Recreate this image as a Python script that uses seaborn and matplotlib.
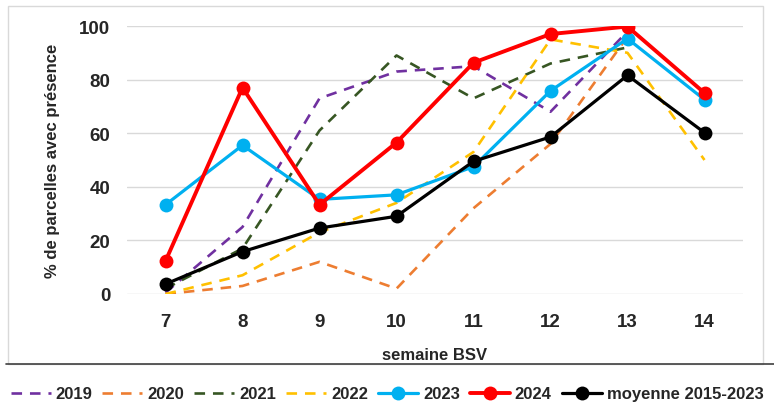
import numpy as np
import pandas as pd
import matplotlib.pyplot as plt
import seaborn as sns
from matplotlib.lines import Line2D
from matplotlib.patches import Rectangle

# Data
weeks = [7, 8, 9, 10, 11, 12, 13, 14]
y2019 = [0.5, 25, 73, 83, 85, 68, 98, np.nan]
y2020 = [0, 3, 12, 2, 32, 56, 96, np.nan]
y2021 = [2, 17, 61, 89, 73, 86, 92, np.nan]
y2022 = [0, 7, 23, 34, 53, 95, 90, 50]
y2023 = [33.3, 55.5, 35.3, 37, 47.5, 75.8, 95.3, 72.5]
y2024 = [12.3, 77, 33.3, 56.5, 86.3, 97, 99.8, 75]
moyenne = [3.7, 15.8, 24.6, 29, 49.5, 58.6, 81.6, 60.2]

sns.set_theme(style="white")
plt.rcParams['font.family'] = ['Liberation Sans', 'DejaVu Sans']

fig = plt.figure(figsize=(7.74, 4.14), dpi=100)
ax = fig.add_axes([127 / 774, 1 - 295 / 414, (743 - 127) / 774, (295 - 27) / 414])

dashed = [
    ("2019", y2019, "#7030A0"),
    ("2020", y2020, "#ED7D31"),
    ("2021", y2021, "#375623"),
    ("2022", y2022, "#FFC000"),
]
for label, vals, col in dashed:
    sns.lineplot(x=weeks, y=vals, ax=ax, color=col, linewidth=1.9,
                 dashes=False, linestyle=(0, (4, 3)), label=label)

solid = [
    ("2023", y2023, "#00B0F0", 2.3),
    ("2024", y2024, "#FF0000", 2.8),
    ("moyenne 2015-2023", moyenne, "#000000", 2.3),
]
for label, vals, col, lw in solid:
    sns.lineplot(x=weeks, y=vals, ax=ax, color=col, linewidth=lw,
                 marker="o", markersize=10, markeredgewidth=0, label=label)

ax.set_xlim(6.5, 14.5)
ax.set_ylim(0, 100)
ax.set_xticks(weeks)
ax.set_yticks([0, 20, 40, 60, 80, 100])
ax.grid(axis="y", color="#D9D9D9", linewidth=1)
ax.set_axisbelow(True)
for s in ax.spines.values():
    s.set_visible(False)
ax.tick_params(axis="x", length=0, labelsize=13.5, pad=14)
ax.tick_params(axis="y", length=0, labelsize=13.5, pad=12)
for t in ax.get_xticklabels() + ax.get_yticklabels():
    t.set_fontweight("bold")
ax.set_xlabel("semaine BSV", fontsize=12, fontweight="bold", labelpad=12)
ax.set_ylabel("% de parcelles avec présence", fontsize=12, fontweight="bold", labelpad=14)

ax.get_legend().remove()
handles, labels = ax.get_legend_handles_labels()
fig.legend(handles, labels, loc="center", bbox_to_anchor=(0.5, 1 - 395 / 414),
           ncol=7, frameon=False, handlelength=2.4,
           columnspacing=0.6, handletextpad=0.3, prop={"weight": "bold", "size": 12})

# chart border and separator line
fig.add_artist(Rectangle((8 / 774, 1 - 365 / 414), (763 - 8) / 774, (365 - 7) / 414,
                         transform=fig.transFigure, fill=False, edgecolor="#D9D9D9", linewidth=1))
fig.add_artist(Line2D([6 / 774, 1], [1 - 365 / 414, 1 - 365 / 414],
                      transform=fig.transFigure, color="#404040", linewidth=1.2))

fig.savefig("out.png", dpi=100)
